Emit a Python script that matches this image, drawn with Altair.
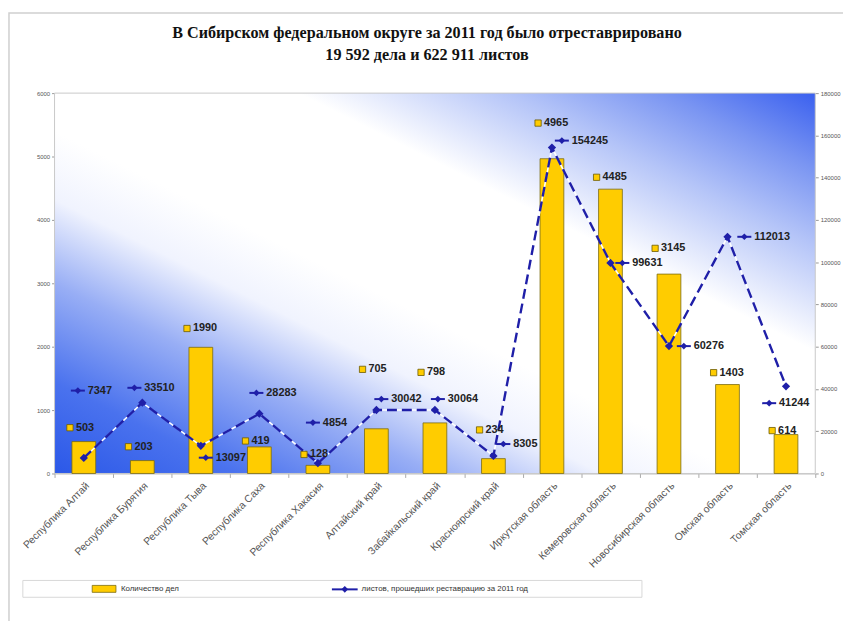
import altair as alt
import pandas as pd

regions = ["Республика Алтай", "Республика Бурятия", "Республика Тыва", "Республика Саха",
           "Республика Хакасия", "Алтайский край", "Забайкальский край", "Красноярский край",
           "Иркутская область", "Кемеровская область", "Новосибирская область",
           "Омская область", "Томская область"]
files = [503, 203, 1990, 419, 128, 705, 798, 234, 4965, 4485, 3145, 1403, 614]
sheets = [7347, 33510, 13097, 28283, 4854, 30042, 30064, 8305, 154245, 99631, 60276, 112013, 41244]

# label nudges (pixels) - styling of label placement only
bar_label_dy = [-14, -14, -19, -6, -11, -60, -51, -29, -36, -12, -26, -12, -4]
line_label_dx = [-6, -8, 5, -3, -5, 5, 3, 10, 10, 12, 15, 17, -17]
line_label_dy = [-68, -15, 12, -21, -41, -11, -11, -12, -7, 0, 0, 0, 17]

title1 = "В Сибирском федеральном округе  за 2011 год было отреставрировано"
title2 = "19 592 дела и 622 911 листов"
legend_bar = "Количество дел"
legend_line = "листов, прошедших реставрацию за 2011 год"

df = pd.DataFrame({
    "region": regions, "files": files, "sheets": sheets,
    "bdy": bar_label_dy, "ldx": line_label_dx, "ldy": line_label_dy,
})
one = pd.DataFrame({"a": [0]})

W, H = 768, 384
BAR = "#FFCC00"
BLUE = "#1f1fa8"
FONT = "Liberation Sans"

xenc = alt.X("region:N", sort=regions,
             scale=alt.Scale(domain=regions, paddingInner=0, paddingOuter=0),
             axis=alt.Axis(title=None, labelAngle=-45, labelFontSize=10.5, labelColor="#555",
                           labelFont=FONT, tickBand="extent", tickSize=4, tickColor="#aaa",
                           domainColor="#bbb", labelPadding=3, labelLimit=200))
yL = alt.Scale(domain=[0, 6000])
yR = alt.Scale(domain=[0, 180000])

frame = alt.Chart(one).mark_rect(fill="transparent", stroke="#cfcfcf", strokeWidth=1.5).encode(
    x=alt.value(-46), x2=alt.value(1000), y=alt.value(-81), y2=alt.value(1000))

grad = alt.Chart(one).mark_rect(fill={
    "gradient": "linear", "x1": 0, "y1": 1, "x2": 1, "y2": 0,
    "stops": [
        {"offset": 0, "color": "#2b58e8"},
        {"offset": 0.12, "color": "#4a72ee"},
        {"offset": 0.25, "color": "#98aef5"},
        {"offset": 0.36, "color": "#f0f3fe"},
        {"offset": 0.45, "color": "#ffffff"},
        {"offset": 0.66, "color": "#ffffff"},
        {"offset": 0.8, "color": "#b4c4f8"},
        {"offset": 0.9, "color": "#7a95f2"},
        {"offset": 1, "color": "#3a60ef"},
    ]}, stroke="#c8c8c8", strokeWidth=1).encode(
    x=alt.value(0), x2=alt.value(W), y=alt.value(0), y2=alt.value(H))

bars = alt.Chart(df).mark_bar(size=24, color=BAR, stroke="#7a6a10", strokeWidth=0.8).encode(
    x=xenc,
    y=alt.Y("files:Q", scale=yL,
            axis=alt.Axis(title=None, orient="left", values=list(range(0, 6001, 1000)),
                          format="d", labelFontSize=6, labelColor="#555", grid=False,
                          tickSize=3, tickColor="#999", domain=False, labelFont=FONT)))

line_white = alt.Chart(df).mark_line(color="white", strokeWidth=1.6).encode(
    x=xenc, y=alt.Y("sheets:Q", scale=yR, axis=None))

line_blue = alt.Chart(df).mark_line(color=BLUE, strokeWidth=2.4, strokeDash=[10, 5]).encode(
    x=xenc,
    y=alt.Y("sheets:Q", scale=yR,
            axis=alt.Axis(title=None, orient="right", values=list(range(0, 180001, 20000)),
                          format="d", labelFontSize=6, labelColor="#555", grid=False,
                          tickSize=3, tickColor="#999", domain=False, labelFont=FONT)))

pts = alt.Chart(df).mark_point(shape="diamond", filled=True, color=BLUE, size=70, opacity=1).encode(
    x=xenc, y=alt.Y("sheets:Q", scale=yR, axis=None))

# bar labels
bl_key = alt.Chart(df).mark_point(shape="square", size=40, fill=BAR, stroke="#6a5a00",
                                  strokeWidth=0.8, filled=True, opacity=1,
                                  xOffset=-14, yOffset=alt.ExprRef(expr="datum.bdy")).encode(
    x=xenc, y=alt.Y("files:Q", scale=yL, axis=None))
bl_txt = alt.Chart(df).mark_text(align="left", baseline="middle", dx=-8,
                                 dy=alt.ExprRef(expr="datum.bdy"), fontSize=11,
                                 fontWeight="bold", font=FONT, color="#222").encode(
    x=xenc, y=alt.Y("files:Q", scale=yL, axis=None),
    text=alt.Text("files:Q", format="d"))

# line labels
ll_line = alt.Chart(df).mark_point(shape="M-1,0L1,0", size=200, filled=False, stroke=BLUE,
                                   strokeWidth=2, opacity=1,
                                   xOffset=alt.ExprRef(expr="datum.ldx"),
                                   yOffset=alt.ExprRef(expr="datum.ldy")).encode(
    x=xenc, y=alt.Y("sheets:Q", scale=yR, axis=None))
ll_key = alt.Chart(df).mark_point(shape="diamond", filled=True, color=BLUE, size=45, opacity=1,
                                  xOffset=alt.ExprRef(expr="datum.ldx"),
                                  yOffset=alt.ExprRef(expr="datum.ldy")).encode(
    x=xenc, y=alt.Y("sheets:Q", scale=yR, axis=None))
ll_txt = alt.Chart(df).mark_text(align="left", baseline="middle",
                                 dx=alt.ExprRef(expr="datum.ldx + 10"),
                                 dy=alt.ExprRef(expr="datum.ldy"), fontSize=11,
                                 fontWeight="bold", font=FONT, color="#222").encode(
    x=xenc, y=alt.Y("sheets:Q", scale=yR, axis=None),
    text=alt.Text("sheets:Q", format="d"))

# legend
leg_box = alt.Chart(one).mark_rect(fill="white", stroke="#d8d8d8", strokeWidth=1).encode(
    x=alt.value(-32), x2=alt.value(593), y=alt.value(492), y2=alt.value(509))
leg_sw = alt.Chart(one).mark_rect(fill=BAR, stroke="#7a6a10", strokeWidth=0.8).encode(
    x=alt.value(38), x2=alt.value(62), y=alt.value(497), y2=alt.value(504))
leg_t1 = alt.Chart(one).mark_text(align="left", baseline="middle", fontSize=8, font=FONT,
                                  color="#333", text=legend_bar).encode(
    x=alt.value(67), y=alt.value(501))
leg_ln = alt.Chart(one).mark_rule(color=BLUE, strokeWidth=2).encode(
    x=alt.value(280), x2=alt.value(306), y=alt.value(501))
leg_pt = alt.Chart(one).mark_point(shape="diamond", filled=True, color=BLUE, size=45, opacity=1).encode(
    x=alt.value(293), y=alt.value(501))
leg_t2 = alt.Chart(one).mark_text(align="left", baseline="middle", fontSize=8, font=FONT,
                                  color="#333", text=legend_line).encode(
    x=alt.value(310), y=alt.value(501))

t1 = alt.Chart(one).mark_text(align="center", baseline="middle", fontSize=16.3, fontWeight="bold",
                              font="Liberation Serif", color="#111", text=title1).encode(
    x=alt.value(376), y=alt.value(-61))
t2 = alt.Chart(one).mark_text(align="center", baseline="middle", fontSize=16.3, fontWeight="bold",
                              font="Liberation Serif", color="#111", text=title2).encode(
    x=alt.value(376), y=alt.value(-38))

chart = alt.layer(
    frame, grad, bars, line_white, line_blue, pts,
    bl_key, bl_txt, ll_line, ll_key, ll_txt,
    leg_box, leg_sw, leg_t1, leg_ln, leg_pt, leg_t2, t1, t2
).resolve_scale(y="independent").properties(
    width=W, height=H,
    autosize=alt.AutoSizeParams(type="none"),
    padding={"left": 47, "top": 83, "right": 28, "bottom": 146},
    background="white",
).configure_view(stroke=None)

chart.save("out.html", embed_options={"renderer": "svg", "actions": False})
